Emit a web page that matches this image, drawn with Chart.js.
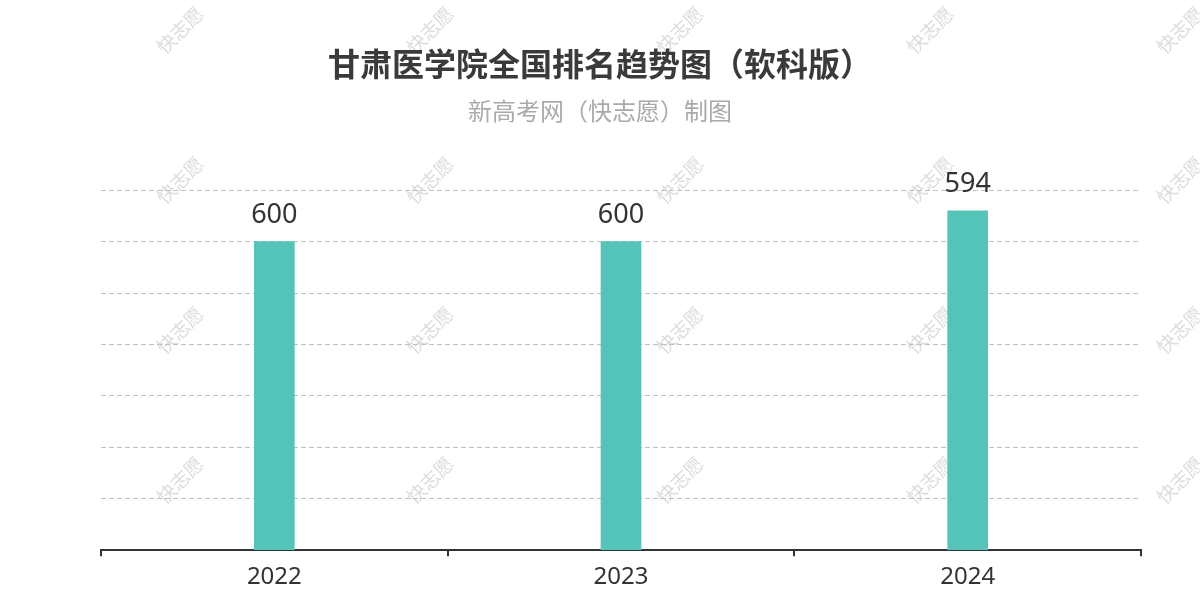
<!DOCTYPE html>
<html>
<head>
<meta charset="utf-8">
<script src="https://cdn.jsdelivr.net/npm/chart.js@4/dist/chart.umd.min.js"></script>
<style>
  html, body { margin: 0; padding: 0; background: #fff; }
  #wrap { width: 1200px; height: 600px; }
</style>
</head>
<body>
<div id="wrap"><canvas id="rank-chart" width="1200" height="600"></canvas></div>
<script>
const years = ['2022', '2023', '2024'];
const ranks = [600, 600, 594];
const rankAxisTop = 590;
const rankAxisBottom = 660;
const rankStep = 10;

const titleText = '甘肃医学院全国排名趋势图（软科版）';
const subtitleText = '新高考网（快志愿）制图';
const watermarkText = '快志愿';

const cjk = '"Noto Sans CJK SC", "Noto Sans", sans-serif';

// faint diagonal watermark behind everything
const watermarkPlugin = {
    id: 'watermark',
    beforeDraw(chart) {
        const c = chart.ctx;
        c.save();
        c.fillStyle = '#dcdcdc';
        c.font = '19px ' + cjk;
        c.textAlign = 'center';
        c.textBaseline = 'middle';
        for (let x = 180; x < 1300; x += 250) {
            for (let y = 30; y < 620; y += 150) {
                c.save();
                c.translate(x, y);
                c.rotate(-Math.PI / 4);
                c.fillText(watermarkText, 0, 0);
                c.restore();
            }
        }
        c.restore();
    }
};

// value labels above bars
const barLabelPlugin = {
    id: 'barLabels',
    afterDatasetsDraw(chart) {
        const c = chart.ctx;
        const meta = chart.getDatasetMeta(0);
        c.save();
        c.fillStyle = '#333';
        c.font = '27px "Noto Sans", sans-serif';
        c.textAlign = 'center';
        c.textBaseline = 'middle';
        meta.data.forEach((bar, i) => {
            c.fillText(String(ranks[i]), bar.x, bar.y - 26);
        });
        c.restore();
    }
};

const ctx = document.getElementById('rank-chart').getContext('2d');
const rankChart = new Chart(ctx, {
    type: 'bar',
    data: {
        labels: years,
        datasets: [{
            data: ranks,
            base: rankAxisBottom,
            backgroundColor: '#55c4b8',
            barThickness: 40
        }]
    },
    options: {
        responsive: false,
        animation: false,
        layout: { padding: { left: 59, right: 59, top: 0, bottom: 1 } },
        plugins: {
            legend: { display: false },
            tooltip: { enabled: false },
            title: {
                display: true,
                text: titleText,
                color: '#3a3a3a',
                font: { family: cjk, size: 32, weight: 'bold' },
                padding: { top: 45, bottom: 13 }
            },
            subtitle: {
                display: true,
                text: subtitleText,
                color: '#aaaaaa',
                font: { family: cjk, size: 24 },
                padding: { top: 0, bottom: 65 }
            }
        },
        scales: {
            x: {
                grid: {
                    offset: true,
                    drawOnChartArea: false,
                    color: '#333',
                    lineWidth: 2,
                    tickLength: 6
                },
                border: { color: '#333', width: 2 },
                ticks: {
                    color: '#333',
                    padding: 7,
                    font: { family: '"Noto Sans", sans-serif', size: 24 }
                }
            },
            y: {
                reverse: true,
                min: rankAxisTop,
                max: rankAxisBottom,
                afterFit(scale) { scale.width = 42; },
                ticks: { display: false, stepSize: rankStep },
                border: { display: false, dash: [5, 3] },
                grid: { color: '#c0c0c0', drawTicks: false, lineWidth: 1 }
            }
        }
    },
    plugins: [watermarkPlugin, barLabelPlugin]
});
</script>
</body>
</html>
